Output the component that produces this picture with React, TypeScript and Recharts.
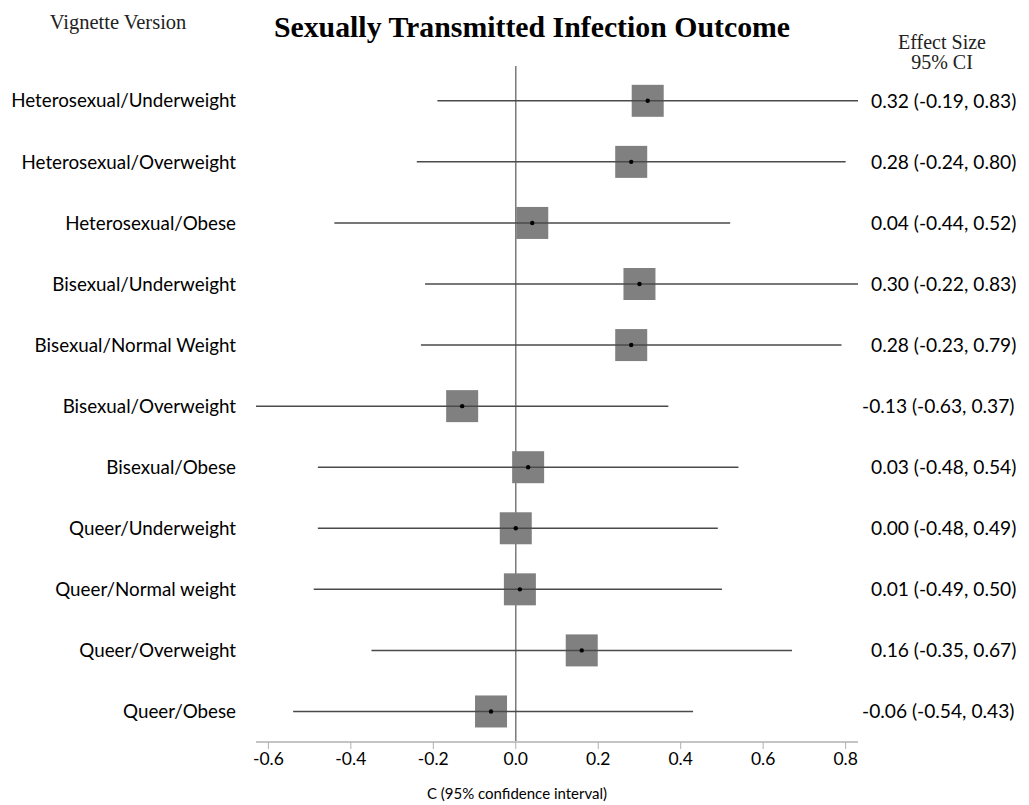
import React from "react";
import {
  ScatterChart,
  Scatter,
  XAxis,
  YAxis,
  ErrorBar,
  ReferenceLine,
} from "recharts";

// Vignette versions, top to bottom
const versions = [
  "Heterosexual/Underweight",
  "Heterosexual/Overweight",
  "Heterosexual/Obese",
  "Bisexual/Underweight",
  "Bisexual/Normal Weight",
  "Bisexual/Overweight",
  "Bisexual/Obese",
  "Queer/Underweight",
  "Queer/Normal weight",
  "Queer/Overweight",
  "Queer/Obese",
];

// Effect sizes with 95% confidence limits
const effect = [0.32, 0.28, 0.04, 0.3, 0.28, -0.13, 0.03, 0.0, 0.01, 0.16, -0.06];
const lower = [-0.19, -0.24, -0.44, -0.22, -0.23, -0.63, -0.48, -0.48, -0.49, -0.35, -0.54];
const upper = [0.83, 0.8, 0.52, 0.83, 0.79, 0.37, 0.54, 0.49, 0.5, 0.67, 0.43];

const xTicks = [-0.6, -0.4, -0.2, 0.0, 0.2, 0.4, 0.6, 0.8];
const rowIds = versions.map((_, i) => i + 1);

const rows = versions.map((name, i) => ({
  row: i + 1,
  name,
  effect: effect[i],
  err: [effect[i] - lower[i], upper[i] - effect[i]],
}));

const fmt = (v: number) => v.toFixed(2);
const ciText = (i: number) => `${fmt(effect[i])} (${fmt(lower[i])}, ${fmt(upper[i])})`;

const SANS = "Lato, 'Open Sans', sans-serif";
const SERIF = "'Liberation Serif', 'DejaVu Serif', serif";

const W = 1021;
const H = 797;

// Grey effect-size box with a black centre dot
const EffectBox = (props: any) => {
  const { cx, cy } = props;
  if (cx == null || cy == null) return null;
  return (
    <g>
      <rect x={cx - 16} y={cy - 16} width={32} height={32} fill="#808080" />
      <line x1={cx - 16} x2={cx + 16} y1={cy} y2={cy} stroke="#4a4a4a" strokeWidth={1.5} />
      <circle cx={cx} cy={cy} r={2.2} fill="#000" />
    </g>
  );
};

// Effect size / CI text; a leading minus hangs to the left so the digits line up
const CiTick = (props: any) => {
  const { x, y, payload } = props;
  const i = payload.value - 1;
  if (i < 0 || i >= effect.length) return null;
  const hang = effect[i] < 0 ? -9 : 0;
  return (
    <text
      x={x + hang}
      y={y}
      dy="0.355em"
      textAnchor="start"
      fontFamily={SANS}
      fontSize={19.2}
      fill="#000"
    >
      {ciText(i)}
    </text>
  );
};

export default function App() {
  return (
    <div style={{ position: "relative", width: W, height: H }}>
      <ScatterChart
        width={W}
        height={H}
        margin={{ top: 58, right: 0, bottom: 0, left: 0 }}
      >
        <XAxis
          type="number"
          dataKey="effect"
          domain={[-0.63, 0.83]}
          ticks={xTicks}
          allowDataOverflow
          interval={0}
          height={63}
          tickFormatter={(v: number) => v.toFixed(1)}
          stroke="#c4c4c4"
          axisLine={{ stroke: "#c4c4c4", strokeWidth: 2 }}
          tickLine={{ stroke: "#b0b0b0" }}
          tickSize={7}
          tickMargin={4}
          tick={{ fill: "#000", fontSize: 17.5, fontFamily: SANS }}
        />
        <YAxis
          yAxisId="left"
          type="number"
          dataKey="row"
          domain={[0.43, 11.5]}
          reversed
          allowDataOverflow
          ticks={rowIds}
          interval={0}
          width={248}
          axisLine={false}
          tickLine={false}
          tickSize={0}
          tickMargin={20}
          tickFormatter={(v: number) => versions[v - 1] ?? ""}
          tick={{ fill: "#000", fontSize: 18.8, fontFamily: SANS }}
        />
        <YAxis
          yAxisId="right"
          orientation="right"
          type="number"
          dataKey="row"
          domain={[0.43, 11.5]}
          reversed
          allowDataOverflow
          ticks={rowIds}
          interval={0}
          width={171}
          axisLine={false}
          tickLine={false}
          tickSize={0}
          tickMargin={13}
          tick={CiTick}
        />
        <ReferenceLine x={0} yAxisId="left" stroke="#7a7a7a" strokeWidth={1.5} />
        <Scatter
          data={rows}
          yAxisId="left"
          isAnimationActive={false}
          shape={EffectBox}
        >
          <ErrorBar
            dataKey="err"
            direction="x"
            width={0}
            stroke="#4a4a4a"
            strokeWidth={1.5}
            isAnimationActive={false}
          />
        </Scatter>
      </ScatterChart>
      <svg
        width={W}
        height={H}
        style={{ position: "absolute", left: 0, top: 0, pointerEvents: "none" }}
      >
        <text
          x={524}
          y={29}
          textAnchor="middle"
          fontFamily={SERIF}
          fontWeight="bold"
          fontSize={29.8}
          fill="#000"
        >
          Sexually Transmitted Infection Outcome
        </text>
        <text x={110} y={21} textAnchor="middle" fontFamily={SERIF} fontSize={20.5} fill="#222">
          Vignette Version
        </text>
        <text x={934} y={41} textAnchor="middle" fontFamily={SERIF} fontSize={20} fill="#222">
          Effect Size
        </text>
        <text x={934} y={61} textAnchor="middle" fontFamily={SERIF} fontSize={20} fill="#222">
          95% CI
        </text>
        <text x={509} y={791} textAnchor="middle" fontFamily={SANS} fontSize={15} fill="#000">
          C (95% confidence interval)
        </text>
      </svg>
    </div>
  );
}
